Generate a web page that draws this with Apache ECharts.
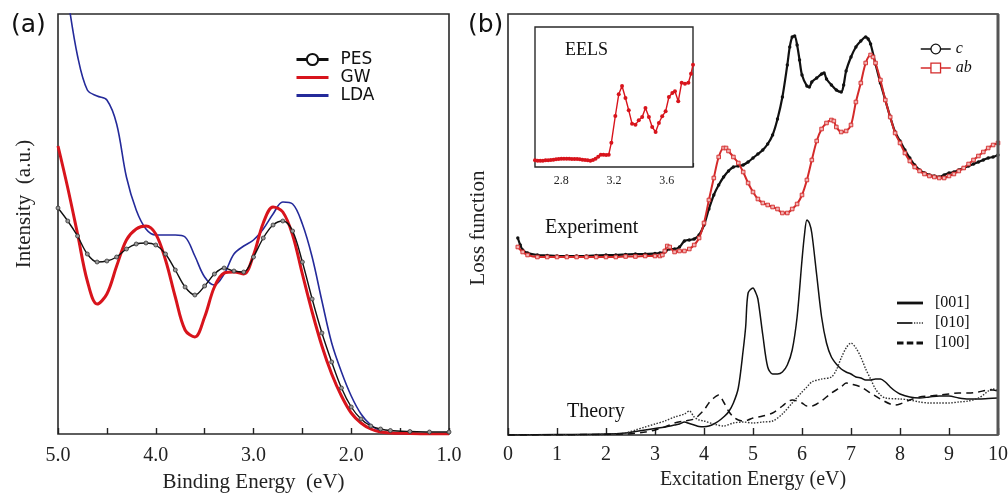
<!DOCTYPE html>
<html><head><meta charset="utf-8">
<script src="https://cdn.jsdelivr.net/npm/echarts@6/dist/echarts.min.js"></script>
<style>html,body{margin:0;padding:0;background:#fff}#c{width:1008px;height:496px}</style>
</head><body><div id="c"></div>
<script>
// ---------- Panel (a): photoemission ----------
const bindingEnergy = [5.0,4.9,4.8,4.7,4.6,4.5,4.4,4.3,4.2,4.1,4.0,3.9,3.8,3.7,3.6,3.5,3.4,3.3,3.2,3.1,3.0,2.9,2.8,2.7,2.6,2.5,2.4,2.3,2.2,2.1,2.0,1.9,1.8,1.7,1.6,1.4,1.2,1.0];
const pesIntensity = [226,213,198,180,172,173,177,185,190,191,189,180,164,147,139,148,160,166,163,162,177,196,209,213,203,172,135,101,72,46,27,15,8,5,3.5,2.5,2,2];
const gwIntensity  = [288,246,200,153,130,140,168,194,205,208,200,174,137,104,97,117,147,161,162,160,179,211,227,222,199,160,122,88,60,38,21,11,5,2,1,0.5,0,0];
const ldaIntensity = [500,436,378,344,338,334,310,257,224,205,199,199,199,197,178,157,149,160,180,188,194,205,220,232,230,210,177,133,91,62,38,20,9,3,1,0.3,0,0];
const bindingTicks = [5.0,4.0,3.0,2.0,1.0];

// ---------- Panel (b): loss function ----------
const cEnergy = [0.2,0.25,0.3,0.4,0.6,0.8,1.0,1.2,1.4,1.6,1.8,2.0,2.2,2.4,2.6,2.8,3.0,3.1,3.2,3.3,3.4,3.5,3.6,3.7,3.8,3.9,4.0,4.1,4.2,4.3,4.4,4.5,4.6,4.7,4.8,4.9,5.0,5.1,5.2,5.3,5.4,5.5,5.6,5.7,5.75,5.8,5.85,5.9,5.95,6.0,6.1,6.15,6.2,6.3,6.4,6.45,6.5,6.6,6.7,6.8,6.85,6.9,7.0,7.1,7.2,7.3,7.35,7.4,7.5,7.6,7.7,7.8,7.9,8.0,8.1,8.2,8.3,8.4,8.5,8.6,8.7,8.8,8.9,9.0,9.1,9.2,9.3,9.4,9.5,9.6,9.7,9.8,9.9,10.0];
const cLoss   = [197,190,185,182,180,179.5,179,179,179,179,179.5,180,180,180.5,181,181,181.5,182,183,186,186,188,194,195,196,200,210,226,240,250,258,264,268,269,270,273,277,281,285,291,300,316,338,370,388,398,399,390,375,360,349,348,353,357,361,362,356,350,345,343,350,364,378,388,394,398,396,391,371,352,335,318,303,294,285,277,270,265,262,260,259,258,260,262,263,265,267,269,271,273,275,277,278,280];
const abEnergy = [0.2,0.3,0.4,0.6,0.8,1.0,1.2,1.4,1.6,1.8,2.0,2.2,2.4,2.6,2.8,3.0,3.1,3.15,3.2,3.25,3.3,3.4,3.5,3.6,3.7,3.8,3.9,4.0,4.1,4.2,4.3,4.4,4.45,4.5,4.6,4.7,4.8,4.9,5.0,5.1,5.2,5.3,5.4,5.5,5.6,5.7,5.8,5.9,6.0,6.1,6.2,6.3,6.4,6.5,6.6,6.65,6.7,6.8,6.9,7.0,7.1,7.2,7.3,7.4,7.45,7.5,7.6,7.7,7.8,7.9,8.0,8.1,8.2,8.3,8.4,8.5,8.6,8.7,8.8,8.9,9.0,9.1,9.2,9.3,9.4,9.5,9.6,9.7,9.8,9.9,10.0];
const abLoss   = [188,183,180,178,178,178,178,178,178,178,178,178,178.5,178.5,179,179,179,180,184,189,188,183,184,184,186,190,197,212,235,257,278,287,287,284,278,272,263,252,243,236,232,230,228,226,222,222,226,231,240,255,275,294,306,312,315,314,308,303,304,310,333,352,372,380,378,372,355,335,318,302,292,282,274,268,264,261,259,258,257,257,259,261,264,267,271,275,279,283,287,290,292];

const t001E = [0,1.0,2.0,2.4,2.6,2.8,3.0,3.2,3.4,3.5,3.6,3.7,3.8,3.9,4.0,4.1,4.2,4.3,4.4,4.5,4.6,4.7,4.8,4.85,4.9,5.0,5.05,5.1,5.2,5.3,5.4,5.5,5.6,5.7,5.8,5.9,6.0,6.05,6.1,6.15,6.2,6.3,6.4,6.5,6.6,6.7,6.8,6.9,7.0,7.1,7.2,7.3,7.4,7.5,7.6,7.7,7.8,7.9,8.0,8.2,8.4,8.6,8.8,9.0,9.2,9.4,9.6,9.8,10.0];
const t001  = [0,0.5,1,2,3.5,5,6.5,8,10,11,13,11.5,10,8.5,8.3,9,11,14,18,23,32,47,85,108,142,147,143,136,100,68,61,61,63,70,85,118,175,200,215,212,202,160,118,92,78,71,66,63,61,58,57,55,55,56,56,53,48,44,41,38,37,38,39,39,37,36,36,36.5,37];
const t010E = [0,2.0,2.2,2.4,2.6,2.8,3.0,3.2,3.4,3.6,3.7,3.8,3.9,4.0,4.2,4.4,4.6,4.8,5.0,5.2,5.4,5.6,5.8,6.0,6.1,6.2,6.4,6.6,6.7,6.8,6.9,7.0,7.1,7.2,7.3,7.4,7.5,7.6,7.7,8.0,8.2,8.4,8.6,8.8,9.0,9.2,9.4,9.6,9.7,9.8,9.9,10.0];
const t010  = [0,0.5,1,2,5,8,11,14,18,21,24,18,15,14,11,9,12,13,12,13,14,21,32,43,48,53,56,58,65,77,87,92,87,78,66,56,46,40,37,36,35,33,32,32,32,33,34,37,40,44,46,44];
const t100E = [0,2.4,2.8,3.0,3.2,3.4,3.6,3.8,3.9,4.0,4.1,4.2,4.3,4.4,4.5,4.6,4.7,4.8,4.9,5.0,5.2,5.4,5.6,5.7,5.8,5.9,6.0,6.1,6.2,6.3,6.4,6.6,6.8,6.9,7.0,7.2,7.4,7.6,7.8,7.9,8.0,8.2,8.4,8.6,8.8,9.0,9.2,9.4,9.6,9.8,9.9,10.0];
const t100  = [0,1,3,5,8,12,14,16,20,25,32,37,40,33,24,18,15,14,15,17,19,22,29,33,35,34,32,29,29,31,34,42,48,52,51,48,42,36,31,30,31,35,38,39,40,41,42,42,43,45,45,44];

// ---------- Inset: EELS ----------
const eelsEnergy = [2.60,2.62,2.64,2.66,2.68,2.70,2.72,2.74,2.76,2.78,2.80,2.82,2.84,2.86,2.88,2.90,2.92,2.94,2.96,2.98,3.00,3.02,3.04,3.06,3.08,3.10,3.12,3.14,3.16,3.18,3.21,3.236,3.261,3.287,3.312,3.337,3.363,3.388,3.414,3.439,3.465,3.49,3.516,3.541,3.566,3.592,3.617,3.643,3.663,3.688,3.714,3.739,3.765,3.785,3.80];
const eelsLoss   = [6.7,6.3,6.3,6.3,6.7,6.7,7,7.3,7.7,8,8.3,8.3,8.3,8.3,8,8,8,7.7,7.3,7,6.7,6.3,7,8.3,10.3,12.3,12.3,12,12.3,24.3,51,72.7,81,69,56.7,43.3,42.3,46.7,50,59,50,40,35,44,50.7,55.7,70,74,75.7,65.7,84.3,83.3,84.3,93.3,102.3];
const eelsTicks = [2.8,3.2,3.6];

const zip = (xs, ys) => xs.map((x, i) => [x, ys[i]]);
const SERIF = '"Liberation Serif", "DejaVu Serif", serif';
const SANS = '"DejaVu Sans", sans-serif';
const RED = '#d8141c';
const BRED = '#d42a2a';

const chart = echarts.init(document.getElementById('c'), null, {renderer: 'canvas'});

const gridCommon = {show: true, borderColor: '#2a2a2a', borderWidth: 1.6, backgroundColor: '#fff', containLabel: false, outerBoundsMode: 'none'};

const option = {
  animation: false,
  backgroundColor: '#fff',
  grid: [
    Object.assign({left: 58, top: 14, width: 391, height: 420}, gridCommon),
    Object.assign({left: 508, top: 14, width: 490, height: 421}, gridCommon),
    Object.assign({left: 535, top: 27, width: 158, height: 140, z: 5}, gridCommon, {borderWidth: 1.4})
  ],
  xAxis: [
    {gridIndex: 0, type: 'value', inverse: true, min: 1, max: 5, interval: 0.5,
     axisLine: {show: false}, splitLine: {show: false},
     axisTick: {show: true, inside: true, length: 6, lineStyle: {color: '#222', width: 1.4}},
     axisLabel: {margin: 12, color: '#222', fontFamily: SERIF, fontSize: 20,
       formatter: v => bindingTicks.some(t => Math.abs(t - v) < 1e-6) ? v.toFixed(1) : ''},
     name: 'Binding Energy  (eV)', nameLocation: 'middle', nameGap: 38,
     nameTextStyle: {fontFamily: SERIF, fontSize: 21, color: '#222'}},
    {gridIndex: 1, type: 'value', min: 0, max: 10, interval: 1,
     axisLine: {show: false}, splitLine: {show: false},
     axisTick: {show: true, inside: true, length: 7, lineStyle: {color: '#222', width: 1.4}},
     axisLabel: {margin: 10, color: '#222', fontFamily: SERIF, fontSize: 20},
     name: 'Excitation Energy (eV)', nameLocation: 'middle', nameGap: 35,
     nameTextStyle: {fontFamily: SERIF, fontSize: 20, color: '#222'}},
    {gridIndex: 2, type: 'value', min: 2.6, max: 3.8, interval: 0.2,
     axisLine: {show: false}, splitLine: {show: false},
     axisTick: {show: true, inside: true, length: 4, lineStyle: {color: '#222', width: 1.2}},
     axisLabel: {margin: 8, color: '#222', fontFamily: SERIF, fontSize: 12,
       formatter: v => eelsTicks.some(t => Math.abs(t - v) < 1e-6) ? v.toFixed(1) : ''}}
  ],
  yAxis: [
    {gridIndex: 0, type: 'value', min: 0, max: 420, show: false},
    {gridIndex: 1, type: 'value', min: 0, max: 421, show: false},
    {gridIndex: 2, type: 'value', min: 0, max: 140, show: false}
  ],
  legend: [
    {left: 295, top: 51, padding: 0, orient: 'vertical', itemWidth: 32, itemHeight: 14, itemGap: 1,
     textStyle: {fontFamily: SANS, fontSize: 17, color: '#111', padding: [0, 0, 0, 7]},
     data: [
       {name: 'PES', itemStyle: {color: '#fff', borderColor: '#111', borderWidth: 2}, lineStyle: {width: 3, color: '#111'}},
       {name: 'GW', icon: 'path://M0,0H32V3.2H0Z'},
       {name: 'LDA', icon: 'path://M0,0H32V3.2H0Z'}
     ]},
    {left: 920, top: 41, padding: 0, orient: 'vertical', itemWidth: 30, itemHeight: 12, itemGap: 3,
     textStyle: {fontFamily: SERIF, fontSize: 16, fontStyle: 'italic', color: '#111'},
     data: [
       {name: 'c', itemStyle: {color: '#fff', borderColor: '#111', borderWidth: 1.3}, lineStyle: {width: 1.5, color: '#111'}},
       {name: 'ab', itemStyle: {color: '#fff', borderColor: BRED, borderWidth: 1.3}, lineStyle: {width: 1.5, color: BRED}}
     ]},
    {left: 897, top: 295, padding: 0, orient: 'vertical', itemWidth: 26, itemHeight: 14, itemGap: 4,
     textStyle: {fontFamily: SERIF, fontSize: 16, color: '#111', padding: [0, 0, 0, 7]},
     data: [
       {name: '[001]', icon: 'path://M0,0H26V2.8H0Z'},
       {name: '[010]', icon: 'path://M0,0.4H15V2.4H0Z M16.5,0.6H17.7V2.2H16.5Z M19,0.6H20.2V2.2H19Z M21.5,0.6H22.7V2.2H21.5Z M24,0.6H25.2V2.2H24Z'},
       {name: '[100]', icon: 'path://M0,0H6.5V2.8H0Z M9.8,0H16.3V2.8H9.8Z M19.5,0H26V2.8H19.5Z'}
     ]}
  ],
  series: [
    {name: 'LDA', type: 'line', xAxisIndex: 0, yAxisIndex: 0, data: zip(bindingEnergy, ldaIntensity),
     smooth: 0.35, showSymbol: false, symbol: 'none', clip: true,
     lineStyle: {color: '#242a9a', width: 1.6}, itemStyle: {color: '#242a9a'}, z: 2},
    {name: 'GW', type: 'line', xAxisIndex: 0, yAxisIndex: 0, data: zip(bindingEnergy, gwIntensity),
     smooth: 0.35, showSymbol: false, symbol: 'none',
     lineStyle: {color: RED, width: 3}, itemStyle: {color: RED}, z: 3},
    {name: 'PES', type: 'line', xAxisIndex: 0, yAxisIndex: 0, data: zip(bindingEnergy, pesIntensity),
     smooth: 0.35, symbol: 'circle', symbolSize: 4, showSymbol: true,
     lineStyle: {color: '#111', width: 1.4}, itemStyle: {color: '#9a9a9a', borderColor: '#333', borderWidth: 0.8}, z: 4},

    {name: 'ab', type: 'line', xAxisIndex: 1, yAxisIndex: 1, data: zip(abEnergy, abLoss),
     smooth: 0.3, symbol: 'rect', symbolSize: 3.6, showSymbol: true,
     lineStyle: {color: BRED, width: 2}, itemStyle: {color: '#f2b3b3', borderColor: BRED, borderWidth: 0.9}, z: 3},
    {name: 'c', type: 'line', xAxisIndex: 1, yAxisIndex: 1, data: zip(cEnergy, cLoss),
     smooth: 0.3, symbol: 'circle', symbolSize: 3.4, showSymbol: true,
     lineStyle: {color: '#111', width: 2.2}, itemStyle: {color: '#111'}, z: 2},
    {name: '[001]', type: 'line', xAxisIndex: 1, yAxisIndex: 1, data: zip(t001E, t001),
     smooth: 0.3, showSymbol: false, symbol: 'none',
     lineStyle: {color: '#111', width: 1.5, type: 'solid'}, itemStyle: {color: '#111'}},
    {name: '[010]', type: 'line', xAxisIndex: 1, yAxisIndex: 1, data: zip(t010E, t010),
     smooth: 0.3, showSymbol: false, symbol: 'none',
     lineStyle: {color: '#333', width: 1.4, type: [1.5, 1.5]}, itemStyle: {color: '#333'}},
    {name: '[100]', type: 'line', xAxisIndex: 1, yAxisIndex: 1, data: zip(t100E, t100),
     smooth: 0.3, showSymbol: false, symbol: 'none',
     lineStyle: {color: '#111', width: 1.5, type: [7, 5]}, itemStyle: {color: '#111'}},

    {name: 'EELS', type: 'line', xAxisIndex: 2, yAxisIndex: 2, data: zip(eelsEnergy, eelsLoss),
     symbol: 'circle', symbolSize: 4, showSymbol: true, z: 6,
     lineStyle: {color: RED, width: 1.4}, itemStyle: {color: RED}}
  ],
  graphic: [
    {type: 'text', left: 11, top: 13, style: {text: '(a)', font: '25px ' + SANS, fill: '#111'}},
    {type: 'text', left: 468, top: 13, style: {text: '(b)', font: '25px ' + SANS, fill: '#111'}},
    {type: 'text', x: 24, y: 204, rotation: Math.PI / 2,
     style: {text: 'Intensity  (a.u.)', font: '21px ' + SERIF, fill: '#222', align: 'center', verticalAlign: 'middle'}},
    {type: 'text', x: 478, y: 228, rotation: Math.PI / 2,
     style: {text: 'Loss function', font: '21px ' + SERIF, fill: '#222', align: 'center', verticalAlign: 'middle'}},
    {type: 'text', x: 545, y: 228, z: 10,
     style: {text: 'Experiment', font: '20px ' + SERIF, fill: '#111', align: 'left', verticalAlign: 'middle'}},
    {type: 'text', x: 567, y: 412, z: 10,
     style: {text: 'Theory', font: '20px ' + SERIF, fill: '#111', align: 'left', verticalAlign: 'middle'}},
    {type: 'text', x: 565, y: 50, z: 10,
     style: {text: 'EELS', font: '18px ' + SERIF, fill: '#111', align: 'left', verticalAlign: 'middle'}},
    {type: 'line', z: 20, shape: {x1: 998, y1: 14, x2: 998, y2: 435}, style: {stroke: '#555', lineWidth: 3}}
  ]
};
chart.setOption(option);
</script></body></html>
